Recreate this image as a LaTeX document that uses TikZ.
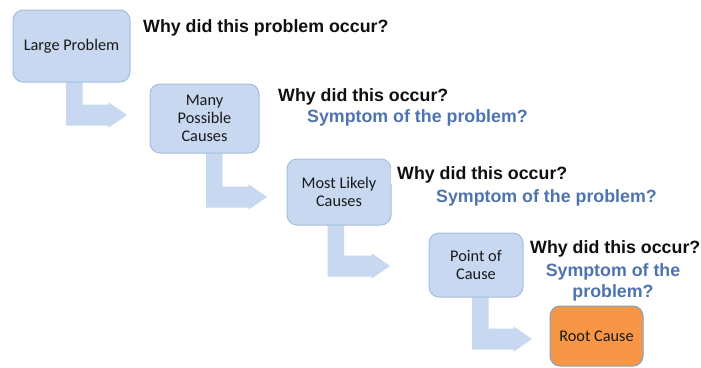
\documentclass[tikz,border=0pt]{standalone}
\usepackage{fontspec}
\setmainfont{Liberation Sans}
\newfontfamily\boxfont{Carlito}

\definecolor{stepfill}{RGB}{199,216,240}
\definecolor{stepline}{RGB}{165,190,222}
\definecolor{rootfill}{RGB}{247,150,70}
\definecolor{rootline}{RGB}{125,165,190}
\definecolor{asktext}{RGB}{15,15,15}
\definecolor{symptext}{RGB}{79,115,175}
\definecolor{stagetext}{RGB}{25,25,25}

\tikzset{
  stage/.style={draw=stepline, fill=stepfill, line width=1pt, rounded corners=10pt,
    align=center, inner sep=0pt, text=stagetext,
    font=\boxfont\fontsize{16.3}{17.7}\selectfont},
  rootstage/.style={stage, draw=rootline, fill=rootfill},
  ask/.style={font=\bfseries\fontsize{17.8}{21}\selectfont, text=asktext,
    inner sep=0pt, anchor=base west},
  symptom/.style={ask, text=symptext},
}

% L-shaped block arrow: #1 shaft left x, #2 shaft top y, #3 foot centre y, #4 tip x
\newcommand\stepflow[4]{%
  \fill[stepfill] (#1,#2) -- (#1,#3+10.5) -- (#4-18.5,#3+10.5) -- (#4-18.5,#3+12.75)
    -- (#4,#3) -- (#4-18.5,#3-12.75) -- (#4-18.5,#3-10.5) -- (#1+16.5,#3-10.5)
    -- (#1+16.5,#2) -- cycle;}

\begin{document}
\begin{tikzpicture}[x=1pt,y=-1pt]
\useasboundingbox (0,0) rectangle (701,367);

% block arrows between the stages
\stepflow{66}{80}{115}{127}
\stepflow{206}{151}{197}{267}
\stepflow{327.5}{223}{266}{390}
\stepflow{472}{295}{339}{532}

% stages
\node[stage, minimum width=117pt, minimum height=72pt] (b1) at (71.5,46) {Large Problem};
\node[stage, minimum width=109pt, minimum height=69pt] (b2) at (204.5,118.5) {Many\\Possible\\Causes};
\node[stage, minimum width=104pt, minimum height=66pt] (b3) at (339,192) {Most Likely\\Causes};
\node[stage, minimum width=94pt, minimum height=64pt] (b4) at (476,265) {Point of\\Cause};
\node[rootstage, minimum width=93pt, minimum height=60pt] (b5) at (596.5,336) {Root Cause};

% questions
\node[ask] (q1) at (143,32) {Why did this problem occur?};

\node[ask] (q2) at (278,101) {Why did this occur?};
\node[symptom] (s2) at (307,122) {Symptom of the problem?};

\node[ask, fill=white, inner xsep=6.5pt, inner ysep=1.5pt] (q3) at (390.5,179) {Why did this occur?};
\node[symptom] (s3) at (436,202) {Symptom of the problem?};

\node[ask] (q4) at (530,253) {Why did this occur?};
\node[symptom, anchor=base] (s4a) at (613,276) {Symptom of the};
\node[symptom, anchor=base] (s4b) at (613,297) {problem?};
\end{tikzpicture}
\end{document}
